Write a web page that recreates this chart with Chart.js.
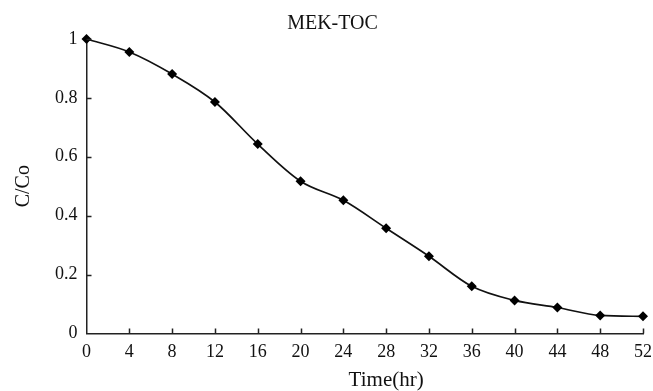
<!DOCTYPE html>
<html>
<head>
<meta charset="utf-8">
<script src="https://cdn.jsdelivr.net/npm/chart.js@4/dist/chart.umd.min.js"></script>
<style>
  html, body { margin: 0; padding: 0; background: #fff; }
  #wrap { width: 653px; height: 391px; position: relative; }
</style>
</head>
<body>
<div id="wrap"><canvas id="mekChart"></canvas></div>
<script>
// data
var hours = [0, 4, 8, 12, 16, 20, 24, 28, 32, 36, 40, 44, 48, 52];
var ratio = [1.0, 0.956, 0.881, 0.786, 0.643, 0.517, 0.452, 0.357, 0.262, 0.160, 0.112, 0.088, 0.061, 0.058];
var yTicks = [0, 0.2, 0.4, 0.6, 0.8, 1];

var serif = '"Liberation Serif", "Times New Roman", serif';

// inward tick marks, positioned by the scales themselves,
// plus the x axis title, which sits right of centre in the original
var axisExtras = {
    id: 'axisExtras',
    afterDraw: function(chart) {
        var ctx = chart.ctx;
        var xs = chart.scales.x, ys = chart.scales.y;
        var len = 5;
        ctx.save();
        ctx.strokeStyle = '#222';
        ctx.lineWidth = 1.5;
        ctx.beginPath();
        hours.forEach(function(h) {
            if (h === 0) return;
            var px = Math.round(xs.getPixelForValue(h)) + 0.5;
            ctx.moveTo(px, ys.bottom);
            ctx.lineTo(px, ys.bottom - len);
        });
        yTicks.forEach(function(v) {
            if (v === 0) return;
            var py = Math.round(ys.getPixelForValue(v)) + 0.5;
            ctx.moveTo(xs.left, py);
            ctx.lineTo(xs.left + len, py);
        });
        ctx.stroke();

        ctx.fillStyle = '#111';
        ctx.font = '21px ' + serif;
        ctx.textAlign = 'center';
        ctx.textBaseline = 'middle';
        ctx.fillText('Time(hr)', xs.getPixelForValue(28), chart.height - 11);
        ctx.restore();
    }
};

var ctx = document.getElementById('mekChart').getContext('2d');
var mekChart = new Chart(ctx, {
    type: 'line',
    data: {
        datasets: [{
            label: 'MEK-TOC',
            data: hours.map(function(h, i) { return { x: h, y: ratio[i] }; }),
            borderColor: '#111',
            backgroundColor: '#000',
            borderWidth: 1.7,
            pointStyle: 'rectRot',
            pointRadius: 5,
            pointBorderWidth: 0,
            cubicInterpolationMode: 'monotone',
            clip: false
        }]
    },
    options: {
        responsive: true,
        maintainAspectRatio: false,
        animation: false,
        layout: { padding: { left: 12, right: 0, top: 0, bottom: 0 } },
        plugins: {
            legend: { display: false },
            tooltip: { enabled: false },
            title: {
                display: true,
                text: 'MEK-TOC',
                color: '#111',
                font: { family: serif, size: 20, weight: 'normal' },
                padding: { top: 12, bottom: 3 }
            }
        },
        scales: {
            x: {
                type: 'linear',
                min: 0,
                max: 52,
                afterBuildTicks: function(scale) {
                    scale.ticks = hours.map(function(h) { return { value: h }; });
                },
                afterFit: function(scale) {
                    // let the "52" label hang closer to the canvas edge
                    scale.paddingRight = 10;
                },
                grid: { display: true, drawOnChartArea: false, drawTicks: false },
                border: { display: true, color: '#222', width: 1.5 },
                ticks: {
                    color: '#111',
                    padding: 8,
                    maxRotation: 0,
                    font: { family: serif, size: 18 }
                },
                title: {
                    // reserves the space; the text itself is drawn by axisExtras
                    display: true,
                    text: 'Time(hr)',
                    color: 'rgba(0,0,0,0)',
                    font: { family: serif, size: 20 },
                    padding: { top: 0, bottom: -4 }
                }
            },
            y: {
                min: 0,
                max: 1,
                afterBuildTicks: function(scale) {
                    scale.ticks = yTicks.map(function(v) { return { value: v }; });
                },
                grid: { display: true, drawOnChartArea: false, drawTicks: false },
                border: { display: true, color: '#222', width: 1.5 },
                ticks: {
                    color: '#111',
                    padding: 9,
                    font: { family: serif, size: 18 },
                    callback: function(v) { return String(Math.round(v * 10) / 10); }
                },
                title: {
                    display: true,
                    text: 'C/Co',
                    color: '#111',
                    font: { family: serif, size: 20 },
                    padding: { top: 0, bottom: 10 }
                }
            }
        }
    },
    plugins: [axisExtras]
});
</script>
</body>
</html>
